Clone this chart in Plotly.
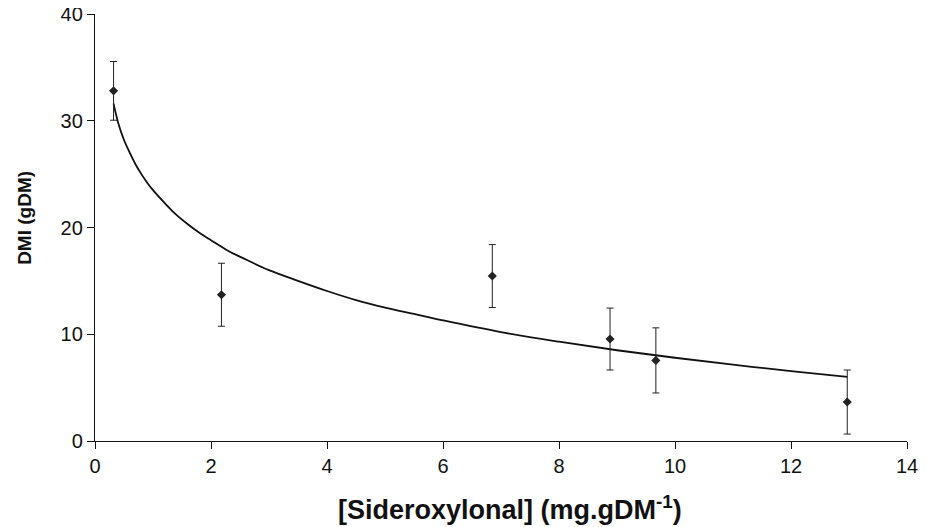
import plotly.graph_objects as go

# Data points
pts_x = [0.32, 2.18, 6.85, 8.88, 9.67, 12.97]
pts_y = [32.8, 13.7, 15.45, 9.55, 7.55, 3.65]
pts_err = [2.75, 2.95, 2.95, 2.9, 3.05, 3.0]

# Fitted curve
curve_x = [0.32, 0.4, 0.5, 0.6, 0.7, 0.8, 0.9, 1.0, 1.2, 1.4, 1.6, 1.8, 2.0, 2.3, 2.6,
           3.0, 3.5, 4.0, 4.5, 5.0, 5.5, 6.0, 7.0, 8.0, 9.0, 10.0, 11.0, 12.0, 12.97]
curve_y = [31.6, 29.8, 28.2, 27.0, 25.9, 25.0, 24.2, 23.5, 22.3, 21.2, 20.3, 19.5, 18.8, 17.8, 17.0,
           16.0, 15.0, 14.05, 13.2, 12.5, 11.9, 11.3, 10.2, 9.3, 8.5, 7.8, 7.15, 6.55, 6.0]

x_ticks = [0, 2, 4, 6, 8, 10, 12, 14]
y_ticks = [0, 10, 20, 30, 40]

fig = go.Figure()
fig.add_trace(go.Scatter(
    x=curve_x, y=curve_y, mode="lines", line=dict(color="#111", width=1.8, shape="spline"),
    hoverinfo="skip", showlegend=False))
fig.add_trace(go.Scatter(
    x=pts_x, y=pts_y, mode="markers",
    marker=dict(symbol="diamond", size=7, color="#222"),
    error_y=dict(type="data", array=pts_err, visible=True, color="#222", thickness=1, width=3.5),
    showlegend=False))

font = "Liberation Sans, Arial, Helvetica, sans-serif"
fig.update_layout(
    width=922, height=519,
    margin=dict(l=87, r=23, t=6, b=86, autoexpand=False),
    plot_bgcolor="white", paper_bgcolor="white",
    font=dict(family=font, size=20, color="#111"),
    xaxis=dict(range=[0, 14], tickvals=x_ticks, showgrid=False, zeroline=False,
               showline=True, linecolor="#111", linewidth=1.3, automargin=False,
               ticks="outside", ticklen=7, tickcolor="#111", tickwidth=1.3,
               tickfont=dict(size=20), ticklabeloverflow="allow"),
    yaxis=dict(range=[0, 40], tickvals=y_ticks, showgrid=False, zeroline=False,
               showline=True, linecolor="#111", linewidth=1.3, automargin=False,
               ticks="outside", ticklen=7, tickcolor="#111", tickwidth=1.3,
               tickfont=dict(size=20), ticklabeloverflow="allow"),
    annotations=[
        dict(text="<b>[Sideroxylonal] (mg.gDM<sup>-1</sup>)</b>", xref="paper", yref="paper",
             x=0.511, y=-0.157, xanchor="center", yanchor="middle", showarrow=False,
             font=dict(size=27, family=font)),
        dict(text="<b>DMI (gDM)</b>", xref="paper", yref="paper",
             x=-0.086, y=0.523, xanchor="center", yanchor="middle", showarrow=False,
             textangle=-90, font=dict(size=19, family=font)),
    ],
)

fig.write_html("out.html")
